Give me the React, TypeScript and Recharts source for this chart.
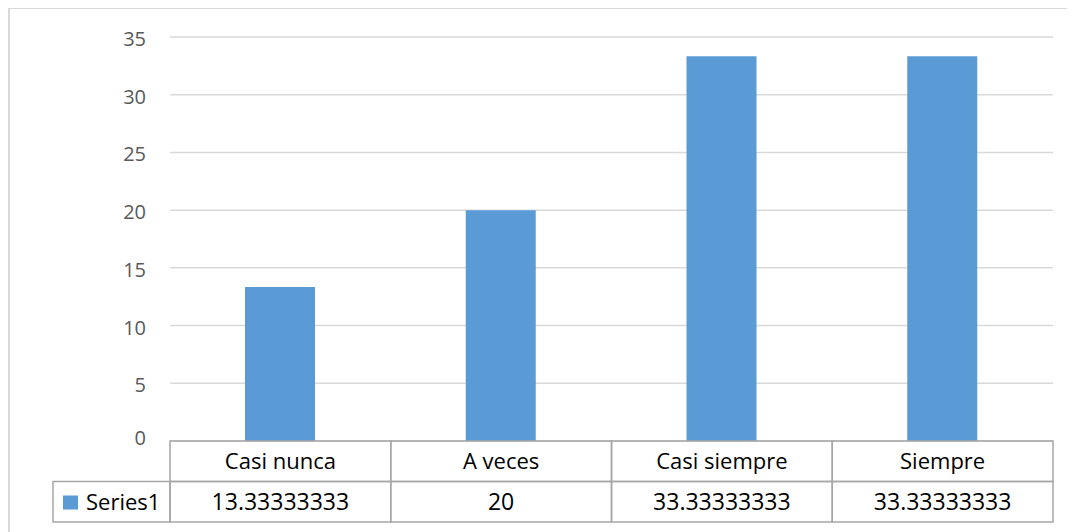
import { BarChart, Bar, XAxis, YAxis, CartesianGrid } from "recharts";

const categories = ["Casi nunca", "A veces", "Casi siempre", "Siempre"];
const series1 = [13.33333333, 20, 33.33333333, 33.33333333];
const yTicks = [0, 5, 10, 15, 20, 25, 30, 35];
const seriesName = "Series1";

const data = categories.map((name, i) => ({ name, value: series1[i] }));

const CHART_W = 1067;
const CHART_H = 524;
const MARGIN = { top: 29, right: 22, left: 0, bottom: 0 };
const Y_W = 162;
const PLOT_W = CHART_W - MARGIN.right - Y_W;
const COL_W = PLOT_W / categories.length;
const ROW_H = 40.5;
const BAR_COLOR = "#5B9BD5";
const LINE = "#A6A6A6";
const FONT = "'Open Sans', sans-serif";

const YTick = ({ x, y, payload }: any) => (
  <text
    x={x - 16}
    y={y}
    dy={payload.value === 0 ? 4 : 9}
    textAnchor="end"
    fontSize={20}
    fontFamily={FONT}
    fill="#595959"
  >
    {payload.value}
  </text>
);

// the data table under the plot, one column per category tick
const TableTick = ({ x, y, payload }: any) => {
  const i = payload.index;
  const left = x - COL_W / 2;
  return (
    <g>
      <rect x={left} y={y} width={COL_W} height={ROW_H} fill="none" stroke={LINE} strokeWidth={1.5} />
      <rect x={left} y={y + ROW_H} width={COL_W} height={ROW_H} fill="none" stroke={LINE} strokeWidth={1.5} />
      <text x={x} y={y + ROW_H / 2 + 8} textAnchor="middle" fontSize={22} fontFamily={FONT} fill="#000">
        {categories[i]}
      </text>
      <text x={x} y={y + ROW_H * 1.5 + 8} textAnchor="middle" fontSize={23} fontFamily={FONT} fill="#000">
        {String(series1[i])}
      </text>
      {i === 0 && (
        <g>
          <rect x={45} y={y + ROW_H} width={left - 45} height={ROW_H} fill="none" stroke={LINE} strokeWidth={1.5} />
          <rect x={55} y={y + ROW_H + 14} width={15} height={14} fill={BAR_COLOR} />
          <text x={78} y={y + ROW_H * 1.5 + 8} fontSize={22} fontFamily={FONT} fill="#000">
            {seriesName}
          </text>
        </g>
      )}
    </g>
  );
};

export default function App() {
  return (
    <div style={{ position: "relative", width: CHART_W, height: CHART_H }}>
      <div
        style={{
          position: "absolute",
          left: 0,
          top: -1,
          width: 1080,
          height: 540,
          border: "2px solid #D9D9D9",
          boxSizing: "border-box",
        }}
      />
      <BarChart width={CHART_W} height={CHART_H} data={data} margin={MARGIN} barSize={70}>
        <CartesianGrid vertical={false} stroke="#D9D9D9" strokeWidth={1.5} />
        <YAxis
          width={Y_W}
          domain={[0, 35]}
          ticks={yTicks}
          axisLine={false}
          tickLine={false}
          tick={<YTick />}
          interval={0}
        />
        <XAxis
          dataKey="name"
          height={91}
          axisLine={false}
          tickLine={false}
          tickSize={0}
          tickMargin={0}
          interval={0}
          tick={<TableTick />}
        />
        <Bar dataKey="value" fill={BAR_COLOR} isAnimationActive={false} />
      </BarChart>
    </div>
  );
}
